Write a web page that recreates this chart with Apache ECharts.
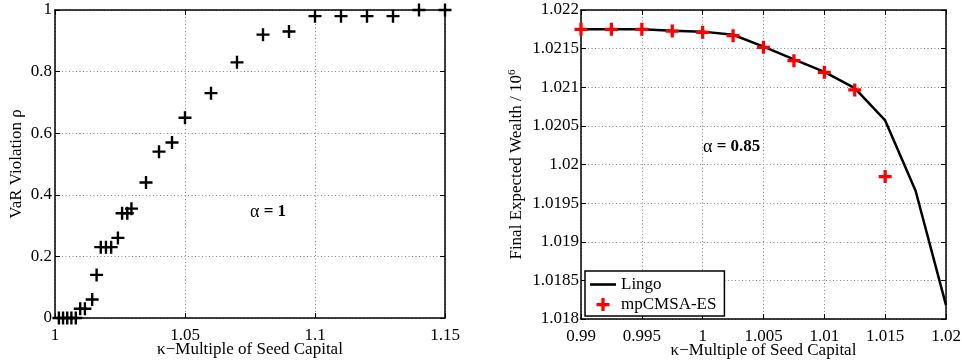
<!DOCTYPE html>
<html>
<head>
<meta charset="utf-8">
<script src="https://cdn.jsdelivr.net/npm/echarts@6/dist/echarts.min.js"></script>
<style>
html,body{margin:0;padding:0;background:#fff;}
#c{width:962px;height:364px;}
</style>
</head>
<body>
<div id="c"></div>
<script>
// Left panel: VaR violation vs kappa (alpha = 1)
var leftKappa = [1.0015, 1.0031, 1.0047, 1.0063, 1.0080, 1.0097, 1.0115, 1.0143, 1.0160,
  1.0176, 1.0196, 1.0216, 1.0242, 1.0258, 1.0278, 1.0294, 1.035, 1.04, 1.045, 1.05,
  1.06, 1.07, 1.08, 1.09, 1.10, 1.11, 1.12, 1.13, 1.14, 1.15];
var leftRho = [0, 0, 0, 0, 0, 0.03, 0.03, 0.06, 0.14,
  0.23, 0.23, 0.23, 0.26, 0.34, 0.34, 0.355, 0.44, 0.54, 0.57, 0.65,
  0.73, 0.83, 0.92, 0.93, 0.98, 0.98, 0.98, 0.98, 1.0, 1.0];

// Right panel: final expected wealth (alpha = 0.85)
var rightKappa = [0.99, 0.9925, 0.995, 0.9975, 1.0, 1.0025, 1.005, 1.0075, 1.01, 1.0125, 1.015, 1.0175, 1.02];
var lingoWealth = [1.02175, 1.02175, 1.02175, 1.02173, 1.02172, 1.02168, 1.021525, 1.02136, 1.0212, 1.02099, 1.02057, 1.01966, 1.01818];
var esKappa = [0.99, 0.9925, 0.995, 0.9975, 1.0, 1.0025, 1.005, 1.0075, 1.01, 1.0125, 1.015];
var esWealth = [1.02175, 1.02175, 1.02175, 1.021728, 1.021711, 1.021668, 1.021517, 1.021344, 1.021194, 1.020965, 1.019844];

function pairs(xs, ys){ return xs.map(function(x,i){ return [x, ys[i]]; }); }

var FONT = 'Liberation Serif';
var plus2 = 'path://M-1.1,-6 H1.1 V-1.1 H6 V1.1 H1.1 V6 H-1.1 V1.1 H-6 V-1.1 H-1.1 Z';
var plus3 = 'path://M-1.5,-6 H1.5 V-1.5 H6 V1.5 H1.5 V6 H-1.5 V1.5 H-6 V-1.5 H-1.5 Z';

var frameLine = {show:true, onZero:false, lineStyle:{color:'#000', width:1.5}};
var tickIn = {show:true, inside:true, length:5, lineStyle:{color:'#000', width:1}};
var grid = {show:true, lineStyle:{color:'#8a8a8a', width:1, type:[1,2.5]}};
var lbl = {color:'#000', fontFamily:FONT, fontSize:17};

function xAxisPair(gi, min, max, interval, name, nameGap){
  return [
    {gridIndex:gi, type:'value', min:min, max:max, interval:interval, position:'bottom',
     axisLine:frameLine, axisTick:tickIn, splitLine:grid,
     axisLabel:Object.assign({margin:9}, lbl),
     name:name, nameLocation:'middle', nameGap:nameGap, nameMoveOverlap:false,
     nameTextStyle:{color:'#000', fontFamily:FONT, fontSize:17}},
    {gridIndex:gi, type:'value', min:min, max:max, interval:interval, position:'top',
     axisLine:frameLine, axisTick:tickIn, splitLine:{show:false}, axisLabel:{show:false}}
  ];
}
function yAxisPair(gi, min, max, interval, name, nameGap, margin, rich){
  return [
    {gridIndex:gi, type:'value', min:min, max:max, interval:interval, position:'left',
     axisLine:frameLine, axisTick:tickIn, splitLine:grid,
     axisLabel:Object.assign({margin:margin}, lbl),
     name:name, nameLocation:'middle', nameGap:nameGap, nameRotate:90, nameMoveOverlap:false,
     nameTextStyle:{color:'#000', fontFamily:FONT, fontSize:17, rich:rich||{}}},
    {gridIndex:gi, type:'value', min:min, max:max, interval:interval, position:'right',
     axisLine:frameLine, axisTick:tickIn, splitLine:{show:false}, axisLabel:{show:false}}
  ];
}

var chart = echarts.init(document.getElementById('c'), null, {renderer:'canvas'});
var option = {
  animation:false,
  backgroundColor:'#fff',
  grid:[
    {left:55, right:517, top:10, bottom:46, containLabel:false, outerBoundsMode:'none'},
    {left:581, right:16, top:10, bottom:45, containLabel:false, outerBoundsMode:'none'}
  ],
  xAxis: xAxisPair(0, 1, 1.15, 0.05, 'κ−Multiple of Seed Capital', 23)
    .concat(xAxisPair(1, 0.99, 1.02, 0.005, 'κ−Multiple of Seed Capital', 23)),
  yAxis: yAxisPair(0, 0, 1, 0.2, 'VaR Violation ρ', 30, 3)
    .concat(yAxisPair(1, 1.018, 1.022, 0.0005, 'Final Expected Wealth / 10{sup|6}', 55, 2,
      {sup:{fontSize:11, fontFamily:FONT, color:'#000', padding:[0,0,8,0]}})),
  legend:{
    left:585, top:271, orient:'vertical',
    backgroundColor:'#fff', borderColor:'#000', borderWidth:1.5, borderRadius:0,
    padding:[5,8,3,5], itemGap:3, itemWidth:26, itemHeight:13,
    textStyle:{color:'#000', fontFamily:FONT, fontSize:17},
    data:[
      {name:'Lingo', icon:'path://M0,0 H26 V2.6 H0 Z'},
      {name:'mpCMSA-ES'}
    ]
  },
  series:[
    {type:'scatter', name:'VaR', xAxisIndex:0, yAxisIndex:0, data:pairs(leftKappa, leftRho),
     symbol:plus2, symbolSize:13, clip:false, itemStyle:{color:'#000', opacity:1}, z:5},
    {type:'line', name:'Lingo', xAxisIndex:2, yAxisIndex:2, data:pairs(rightKappa, lingoWealth),
     symbol:'none', lineStyle:{color:'#000', width:2.5}, itemStyle:{color:'#000'}, z:3},
    {type:'scatter', name:'mpCMSA-ES', xAxisIndex:2, yAxisIndex:2, data:pairs(esKappa, esWealth),
     symbol:plus3, symbolSize:13, clip:false, itemStyle:{color:'#ff0000', opacity:1}, z:6}
  ],
  graphic:[
    {type:'text', left:250, top:203, z:10,
     style:{text:'{a|α} {b|= 1}', font:'17px Liberation Serif', fill:'#000',
       rich:{a:{fontFamily:FONT, fontSize:18, fill:'#000'}, b:{fontFamily:FONT, fontSize:17, fontWeight:'bold', fill:'#000'}}}},
    {type:'text', left:703, top:138, z:10,
     style:{text:'{a|α} {b|= 0.85}', font:'17px Liberation Serif', fill:'#000',
       rich:{a:{fontFamily:FONT, fontSize:18, fill:'#000'}, b:{fontFamily:FONT, fontSize:17, fontWeight:'bold', fill:'#000'}}}}
  ]
};
chart.setOption(option);
</script>
</body>
</html>
